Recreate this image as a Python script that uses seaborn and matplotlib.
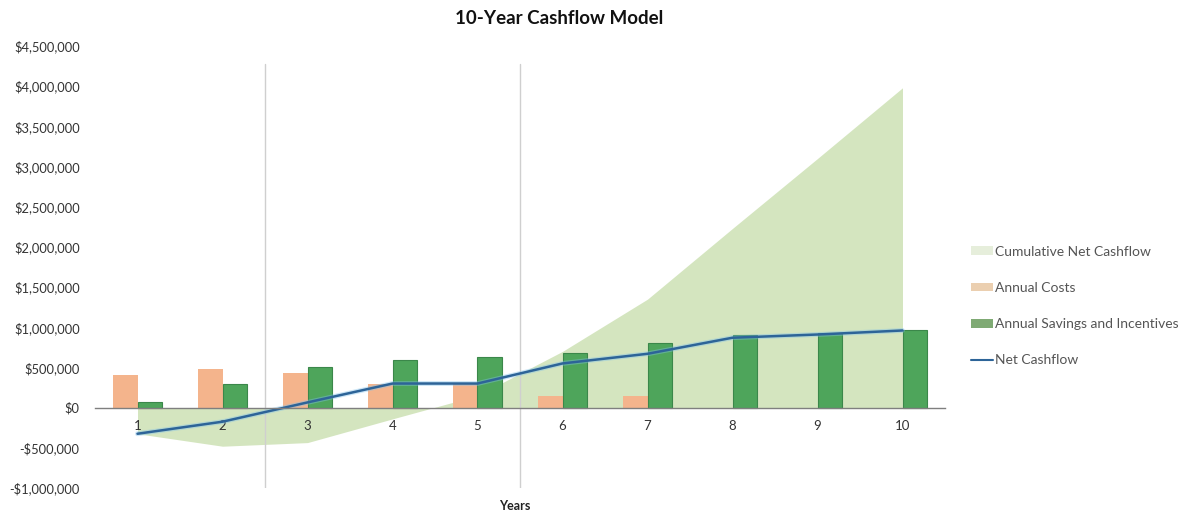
import numpy as np
import pandas as pd
import matplotlib
matplotlib.use("Agg")
import matplotlib.pyplot as plt
from matplotlib.patches import Patch
from matplotlib.lines import Line2D
from matplotlib.ticker import FuncFormatter, MultipleLocator
import seaborn as sns

# ---- data -------------------------------------------------------------
years = ["1", "2", "3", "4", "5", "6", "7", "8", "9", "10"]
annual_costs = [400000, 475000, 435000, 300000, 310000, 150000, 150000, 0, 0, 0]
annual_savings = [75000, 300000, 500000, 590000, 625000, 685000, 810000, 900000, 925000, 960000]
net_cashflow = [-325000, -175000, 65000, 300000, 300000, 550000, 670000, 870000, 910000, 960000]
cumulative_net = [-325000, -480000, -435000, -140000, 150000, 700000, 1350000, 2230000, 3100000, 3980000]

series_names = ["Annual Costs", "Annual Savings and Incentives"]

# ---- styling ----------------------------------------------------------
sns.set_theme(style="white")
plt.rcParams["font.family"] = ["Lato", "DejaVu Sans"]

COST_COLOR = "#F4B48C"
SAVE_COLOR = "#4EA55B"
AREA_COLOR = "#D2E4BC"
LINE_COLOR = "#2D6498"
TEXT_COLOR = "#333333"

fig = plt.figure(figsize=(11.93, 5.17), dpi=100)
ax = fig.add_axes([95 / 1193, 1 - 488 / 517, 850 / 1193, (488 - 46) / 517])

bars = pd.DataFrame({
    "Year": years * 2,
    "Series": [series_names[0]] * len(years) + [series_names[1]] * len(years),
    "Value": annual_costs + annual_savings,
})

pos = np.arange(len(years))

# cumulative position drawn as a shaded area behind the bars
ax.fill_between(pos, 0, cumulative_net, color=AREA_COLOR, alpha=0.95,
                linewidth=0, zorder=0)

sns.barplot(data=bars, x="Year", y="Value", hue="Series", order=years,
            hue_order=series_names, palette=[COST_COLOR, SAVE_COLOR],
            saturation=1, width=0.58, dodge=True, legend=False, ax=ax,
            zorder=2, edgecolor="none")
save_rgb = matplotlib.colors.to_rgb(SAVE_COLOR)
for patch in ax.patches:
    if np.allclose(patch.get_facecolor()[:3], save_rgb, atol=0.02):
        patch.set_edgecolor("#3B874A")
        patch.set_linewidth(0.8)

# net cash flow line with a soft glow underneath
ax.plot(pos, net_cashflow, color="#7FC0EA", linewidth=3.5, alpha=0.4, zorder=3)
sns.lineplot(x=pos, y=net_cashflow, color=LINE_COLOR, linewidth=1.8,
             ax=ax, zorder=4)

# faint vertical dividers
for xv in (1.5, 4.5):
    ax.axvline(xv, ymin=0.0, ymax=0.96, color="#CFCFCF", linewidth=1, zorder=1)

# ---- axes -------------------------------------------------------------
ax.set_xlim(-0.5, len(years) - 0.5)
ax.set_ylim(-1000000, 4500000)
ax.yaxis.set_major_locator(MultipleLocator(500000))


def dollars(v, _):
    v = int(round(v))
    return f"-${abs(v):,}" if v < 0 else f"${v:,}"


ax.yaxis.set_major_formatter(FuncFormatter(dollars))
ax.tick_params(axis="y", length=0, pad=11, labelsize=9.3, labelcolor=TEXT_COLOR)

for s in ("left", "right", "top"):
    ax.spines[s].set_visible(False)
ax.spines["bottom"].set_position(("data", 0))
ax.spines["bottom"].set_color("#7F7F7F")
ax.spines["bottom"].set_linewidth(1)
ax.spines["bottom"].set_zorder(5)

ax.set_xticks(pos)
ax.set_xticklabels(years)
ax.set_xticks(np.arange(-0.5, len(years), 1.0), minor=True)
ax.tick_params(axis="x", which="major", length=0, pad=9, labelsize=9.5,
               labelcolor=TEXT_COLOR)
ax.tick_params(axis="x", which="minor", length=4, width=1, color="#7F7F7F",
               direction="out")
ax.set_xlabel("")
ax.set_ylabel("")
ax.grid(False)

fig.text(515 / 1193, 1 - 506 / 517, "Years", ha="center", va="center",
         fontsize=9, fontweight="bold", color="#222222")
fig.text(559 / 1193, 1 - 18 / 517, "10-Year Cashflow Model", ha="center",
         va="center", fontsize=13.5, fontweight="bold", color="#111111")

# ---- legend -----------------------------------------------------------
handles = [
    Patch(facecolor="#E6EEDB", edgecolor="none"),
    Patch(facecolor="#EBCFB0", edgecolor="none"),
    Patch(facecolor="#7FAA74", edgecolor="none"),
    Line2D([0], [0], color=LINE_COLOR, linewidth=1.5),
]
labels = ["Cumulative Net Cashflow", "Annual Costs",
          "Annual Savings and Incentives", "Net Cashflow"]
fig.legend(handles, labels, loc="center left",
           bbox_to_anchor=(958 / 1193, 1 - 306 / 517), frameon=False,
           fontsize=10, labelcolor="#555555", labelspacing=1.75,
           handlelength=1.6, handleheight=0.6, handletextpad=0.15)

fig.savefig("out.png", dpi=100, facecolor="white")
